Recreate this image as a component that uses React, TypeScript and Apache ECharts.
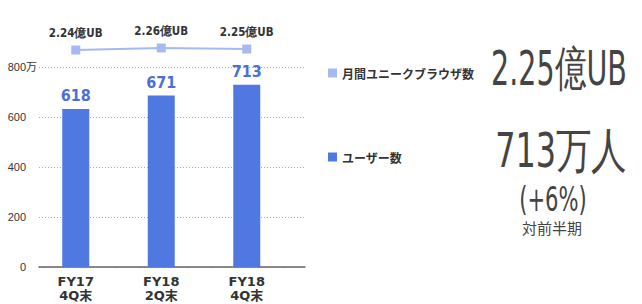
import React, { useEffect, useRef } from "react";
import * as echarts from "echarts";

const categories = ["FY17\n4Q末", "FY18\n2Q末", "FY18\n4Q末"];
const users = [618, 671, 713];
const browsers = [2.24, 2.26, 2.25];
const yTicks = [0, 200, 400, 600, 800];

const BAR = "#5078e1";
const LINE = "#a7baef";
const DARK = "#333333";
const NARROW = "'DejaVu Sans Condensed', 'DejaVu Sans', sans-serif";

export default function App() {
  const ref = useRef<HTMLDivElement>(null);
  useEffect(() => {
    const chart = echarts.init(ref.current!, null, { renderer: "svg" });
    chart.setOption({
      animation: false,
      backgroundColor: "#ffffff",
      grid: [
        { left: 39, top: 67, width: 266, height: 200 },
        { left: 33, top: 67, width: 256.5, height: 200 },
        { left: 33, top: 40, width: 256.5, height: 20 },
      ],
      xAxis: [
        {
          gridIndex: 0, type: "value", min: 0, max: 1,
          axisLine: { show: true, lineStyle: { color: "#666", width: 1.5 } },
          axisTick: { show: false }, axisLabel: { show: false }, splitLine: { show: false },
        },
        {
          gridIndex: 1, type: "category", data: categories,
          axisLine: { show: false }, axisTick: { show: false }, splitLine: { show: false },
          axisLabel: {
            color: DARK, fontWeight: "bold", fontSize: 13, lineHeight: 14, margin: 7,
            fontFamily: "'DejaVu Sans', 'Noto Sans CJK JP', sans-serif",
          },
        },
        {
          gridIndex: 2, type: "category", data: categories, show: false,
        },
      ],
      yAxis: [
        {
          gridIndex: 0, type: "value", min: 0, max: 800, interval: 200,
          axisLine: { show: false }, axisTick: { show: false },
          axisLabel: {
            color: DARK, fontSize: 11, margin: 13,
            fontFamily: "'Liberation Sans', Arial, sans-serif",
            formatter: (v: number) => (yTicks.includes(v) ? String(v) : ""),
          },
          splitLine: { lineStyle: { color: "#aaaaaa", type: [1, 2], width: 1 } },
        },
        { gridIndex: 1, type: "value", min: 0, max: 782, show: false, splitLine: { show: false } },
        { gridIndex: 2, type: "value", min: 2.14, max: 2.34, show: false, splitLine: { show: false } },
      ],
      legend: [
        {
          data: ["月間ユニークブラウザ数"], left: 323, top: 62, icon: "rect",
          itemWidth: 9, itemHeight: 9,
          textStyle: { color: DARK, fontSize: 12, fontWeight: "bold", fontFamily: "'Noto Sans CJK JP', sans-serif" },
        },
        {
          data: ["ユーザー数"], left: 323, top: 146, icon: "rect",
          itemWidth: 9, itemHeight: 9,
          textStyle: { color: DARK, fontSize: 12, fontWeight: "bold", fontFamily: "'Noto Sans CJK JP', sans-serif" },
        },
      ],
      series: [
        {
          name: "ユーザー数", type: "bar", xAxisIndex: 1, yAxisIndex: 1, data: users,
          barWidth: 27, itemStyle: { color: BAR },
          label: {
            show: true, position: "top", distance: 5, color: "#4a70d8",
            fontSize: 16, fontWeight: "bold", fontFamily: NARROW,
          },
        },
        {
          name: "月間ユニークブラウザ数", type: "line", xAxisIndex: 2, yAxisIndex: 2, data: browsers,
          symbol: "rect", symbolSize: 9, itemStyle: { color: LINE },
          lineStyle: { color: LINE, width: 2 },
          label: {
            show: true, position: "top", distance: 7, color: DARK,
            fontSize: 11.5, fontWeight: "bold", fontFamily: NARROW,
            formatter: (p: any) => `${p.value.toFixed(2)}億UB`,
          },
        },
      ],
      graphic: [
        {
          type: "text", left: 26, top: 60,
          style: { text: "万", fontSize: 11, fill: DARK, fontFamily: "'Noto Sans CJK JP', sans-serif" },
        },
        {
          type: "text", x: 559, y: 68, scaleX: 0.66,
          style: {
            text: "2.25億UB", fontSize: 48, fill: "#444", align: "center", verticalAlign: "middle",
            fontFamily: NARROW,
          },
        },
        {
          type: "text", x: 561, y: 151, scaleX: 0.74,
          style: {
            text: "713万人", fontSize: 48, fill: "#444", align: "center", verticalAlign: "middle",
            fontFamily: NARROW,
          },
        },
        {
          type: "text", x: 553, y: 199, scaleX: 0.69,
          style: {
            text: "(+6%)", fontSize: 34, fill: "#444", align: "center", verticalAlign: "middle",
            fontFamily: NARROW,
          },
        },
        {
          type: "text", x: 552, y: 227,
          style: {
            text: "対前半期", fontSize: 15, fill: "#444", align: "center", verticalAlign: "middle",
            fontFamily: "'Noto Sans CJK JP', sans-serif",
          },
        },
      ],
    });
    return () => chart.dispose();
  }, []);
  return <div ref={ref} style={{ width: 642, height: 304, position: "absolute", left: 0, top: 0 }} />;
}
